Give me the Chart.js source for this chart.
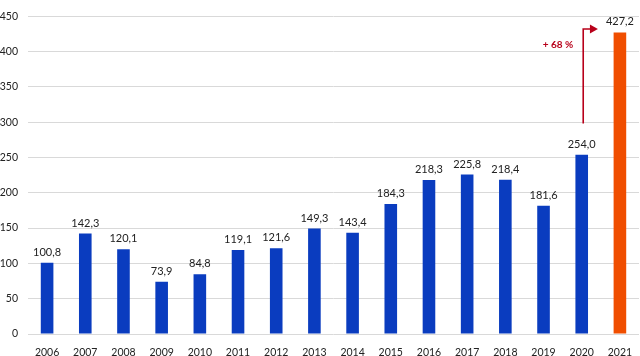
<!DOCTYPE html>
<html><head><meta charset="utf-8">
<script src="https://cdn.jsdelivr.net/npm/chart.js@4/dist/chart.umd.min.js"></script>
<style>html,body{margin:0;padding:0;background:#fff}#wrap{width:640px;height:356px}</style>
</head><body><div id="wrap"><canvas id="c"></canvas></div>
<script>
const years = ['2006','2007','2008','2009','2010','2011','2012','2013','2014','2015','2016','2017','2018','2019','2020','2021'];
const values = [100.8,142.3,120.1,73.9,84.8,119.1,121.6,149.3,143.4,184.3,218.3,225.8,218.4,181.6,254.0,427.2];
const yTicks = [0,50,100,150,200,250,300,350,400,450];
const growthLabel = '+ 68 %';
const arrowStartLevel = 298;
const arrowLevel = 432;
const growthTextLevel = 410;

const FONT = 'Lato, "Open Sans", sans-serif';
const colors = values.map((v,i)=> i===values.length-1 ? '#f04e00' : '#0a3cbf');

const labelPlugin = {
  id:'labels',
  afterDatasetsDraw(chart){
    const ctx = chart.ctx;
    const meta = chart.getDatasetMeta(0);
    ctx.save();
    ctx.font = '11px ' + FONT;
    ctx.fillStyle = '#222';
    ctx.textAlign = 'center';
    ctx.textBaseline = 'bottom';
    meta.data.forEach((bar,i)=>{
      ctx.fillText(values[i].toFixed(1).replace('.',','), bar.x, bar.y - 5);
    });
    // arrow
    const y = chart.scales.y;
    const b20 = meta.data[14], b21 = meta.data[15];
    const ax = b20.x + 1.5;
    const ay = y.getPixelForValue(arrowLevel);
    const endX = b21.x - 22;
    ctx.strokeStyle = '#b8001a';
    ctx.fillStyle = '#b8001a';
    ctx.lineWidth = 1.6;
    ctx.beginPath();
    ctx.moveTo(ax, y.getPixelForValue(arrowStartLevel));
    ctx.lineTo(ax, ay);
    ctx.lineTo(endX - 6, ay);
    ctx.stroke();
    ctx.beginPath();
    ctx.moveTo(endX, ay);
    ctx.lineTo(endX - 8, ay - 4.5);
    ctx.lineTo(endX - 8, ay + 4.5);
    ctx.closePath();
    ctx.fill();
    ctx.font = 'bold 10px ' + FONT;
    ctx.textAlign = 'right';
    ctx.textBaseline = 'middle';
    ctx.fillText(growthLabel, ax - 10, y.getPixelForValue(growthTextLevel));
    ctx.restore();
  }
};

new Chart(document.getElementById('c'), {
  type:'bar',
  data:{labels:years, datasets:[{data:values, backgroundColor:colors, barPercentage:0.66, categoryPercentage:0.5}]},
  options:{
    responsive:true, maintainAspectRatio:false, animation:false,
    layout:{padding:{top:16,right:1,left:0,bottom:0}},
    plugins:{legend:{display:false}, tooltip:{enabled:false}},
    scales:{
      x:{
        grid:{display:false}, border:{display:false},
        ticks:{color:'#222', font:{family:FONT, size:10.5}, padding:4},
        afterFit(s){ s.height = 22; }
      },
      y:{
        min:0, max:450,
        afterBuildTicks(s){ s.ticks = yTicks.map(v=>({value:v})); },
        grid:{color:'#d9d9d9', lineWidth:1, drawTicks:false},
        border:{display:false},
        ticks:{color:'#222', font:{family:FONT, size:10.5}, padding:10},
        afterFit(s){ s.width = 28; }
      }
    }
  },
  plugins:[labelPlugin]
});
</script></body></html>
